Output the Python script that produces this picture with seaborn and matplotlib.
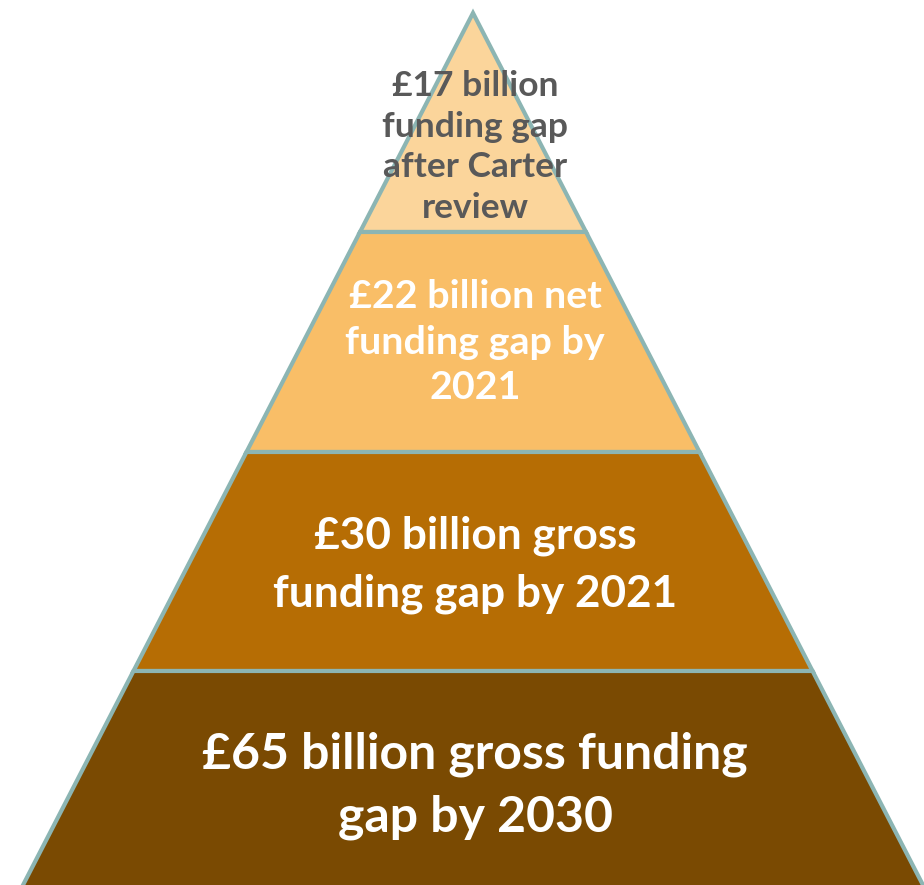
import matplotlib
matplotlib.use("Agg")
import matplotlib.pyplot as plt
import seaborn as sns

# Tiers of the funding-gap pyramid, top to bottom
tier_labels = [
    "£17 billion\nfunding gap\nafter Carter\nreview",
    "£22 billion net\nfunding gap by\n2021",
    "£30 billion gross\nfunding gap by 2021",
    "£65 billion gross funding\ngap by 2030",
]
gap_billions = [17, 22, 30, 65]
tier_colors = ["#FBD59B", "#F9BE67", "#B66D04", "#7A4A02"]
text_colors = ["#595959", "#FFFFFF", "#FFFFFF", "#FFFFFF"]
font_sizes = [25.5, 28.4, 31.8, 36]
line_spacings = [1.34, 1.36, 1.52, 1.48]

# Pyramid geometry in pixel units (y grows downwards)
W, H = 924, 885
apex_x, apex_y = 473, 13
half_slope = 0.516
tier_bounds = [apex_y, 232, 452, 671, 900]
text_centers = [147, 342, 565, 786]
edge_color = "#8CB5B3"

sns.set_theme(style="white")
plt.rcParams["font.family"] = ["Lato", "DejaVu Sans"]

fig = plt.figure(figsize=(W / 100, H / 100), dpi=100)
ax = fig.add_axes([0, 0, 1, 1])
ax.set_xlim(0, W)
ax.set_ylim(H, 0)
ax.axis("off")


def half_width(y):
    return (y - apex_y) * half_slope


for i, label in enumerate(tier_labels):
    y0, y1 = tier_bounds[i], tier_bounds[i + 1]
    w0, w1 = half_width(y0), half_width(y1)
    xs = [apex_x - w0, apex_x + w0, apex_x + w1, apex_x - w1]
    ys = [y0, y0, y1, y1]
    ax.fill(xs, ys, facecolor=tier_colors[i], edgecolor=edge_color,
            linewidth=3.0, joinstyle="miter", zorder=2)
    ax.text(apex_x + 2, text_centers[i], label, ha="center", va="center",
            color=text_colors[i], fontsize=font_sizes[i], fontweight="bold",
            linespacing=line_spacings[i], zorder=3)

fig.savefig("out.png", dpi=100)
